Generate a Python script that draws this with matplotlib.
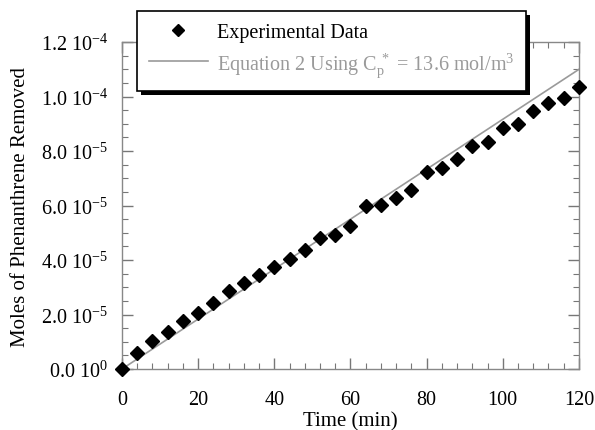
import matplotlib
matplotlib.use("Agg")
import matplotlib.pyplot as plt
from matplotlib.patches import Rectangle
from matplotlib.ticker import MultipleLocator, FixedLocator

plt.rcParams["font.family"] = ["Liberation Serif", "DejaVu Serif"]
plt.rcParams["mathtext.fontset"] = "custom"
plt.rcParams["mathtext.rm"] = "Liberation Serif"
plt.rcParams["mathtext.it"] = "Liberation Serif:italic"

# 实验数据（每 4 分钟一个点）
time_exp = [0, 4, 8, 12, 16, 20, 24, 28, 32, 36, 40, 44, 48, 52, 56, 60,
            64, 68, 72, 76, 80, 84, 88, 92, 96, 100, 104, 108, 112, 116, 120]
moles_exp = [0.0, 5.8e-6, 1.02e-5, 1.36e-5, 1.75e-5, 2.06e-5, 2.41e-5, 2.85e-5,
             3.17e-5, 3.44e-5, 3.76e-5, 4.04e-5, 4.37e-5, 4.80e-5, 4.92e-5, 5.26e-5,
             5.99e-5, 6.03e-5, 6.29e-5, 6.58e-5, 7.24e-5, 7.38e-5, 7.71e-5, 8.18e-5,
             8.34e-5, 8.86e-5, 9.01e-5, 9.48e-5, 9.75e-5, 9.96e-5, 1.036e-4]

# 模型曲线 (Equation 2)
time_model = [0, 30, 60, 90, 120]
moles_model = [0.0, 2.75e-5, 5.5e-5, 8.25e-5, 1.10e-4]

y_ticks = [0.0, 2e-5, 4e-5, 6e-5, 8e-5, 1e-4, 1.2e-4]
y_tick_labels = [r"0.0 10$^{0}$", r"2.0 10$^{-5}$", r"4.0 10$^{-5}$", r"6.0 10$^{-5}$",
                 r"8.0 10$^{-5}$", r"1.0 10$^{-4}$", r"1.2 10$^{-4}$"]

fig = plt.figure(figsize=(5.95, 4.31), dpi=100)
ax = fig.add_axes([0.205, 0.1415, 0.768, 0.7585])

ax.plot(time_model, moles_model, color="#9a9a9a", linewidth=1.2,
        label=r"Equation 2 Using C$_{\rm p}^{\ *}$ = 13.6 mol/m$^{3}$", zorder=2)
ax.plot(time_exp, moles_exp, linestyle="none", marker="D", markersize=7.5,
        color="black", label="Experimental Data", zorder=3, clip_on=False)

ax.set_xlim(0, 120)
ax.set_ylim(0, 1.2e-4)
ax.xaxis.set_major_locator(MultipleLocator(20))
ax.xaxis.set_minor_locator(MultipleLocator(4))
ax.yaxis.set_major_locator(FixedLocator(y_ticks))
ax.yaxis.set_minor_locator(MultipleLocator(5e-6))
ax.set_yticklabels(y_tick_labels)

for side in ["left", "right", "top", "bottom"]:
    ax.spines[side].set_color("#888888")
    ax.spines[side].set_linewidth(1.0)
ax.tick_params(which="both", direction="in", top=True, right=True,
               color="#777777", labelsize=14.5)
ax.tick_params(which="major", length=8, width=1.0)
ax.tick_params(which="minor", length=4, width=0.8)
ax.tick_params(axis="y", pad=10)
ax.tick_params(axis="x", pad=15)

ax.set_xlabel("Time (min)", fontsize=15, labelpad=2)
ax.set_ylabel("Moles of Phenanthrene Removed", fontsize=15, labelpad=8)

handles, labels = ax.get_legend_handles_labels()
leg = fig.legend(handles[::-1], labels[::-1], loc="upper left",
                 bbox_to_anchor=(0.2303, 0.972), fontsize=14.5, frameon=True,
                 fancybox=False, shadow=False, framealpha=1.0, markerscale=0.85,
                 borderpad=0.6, labelspacing=0.38, handlelength=2.9,
                 handletextpad=0.45, borderaxespad=0)
leg.get_frame().set_edgecolor("black")
leg.get_frame().set_facecolor("white")
leg.get_frame().set_linewidth(1.2)
leg.set_zorder(5)
leg.get_texts()[1].set_color("#9a9a9a")

# 阴影：黑色矩形，向右下偏移
fig.canvas.draw()
bb = leg.get_window_extent().transformed(fig.transFigure.inverted())
dx, dy = 4 / 595, 4 / 431
fig.patches.append(Rectangle((bb.x0 + dx, bb.y0 - dy), bb.width, bb.height,
                             transform=fig.transFigure, facecolor="black",
                             edgecolor="none", zorder=4))

plt.savefig("out.png", dpi=100)
plt.close()
